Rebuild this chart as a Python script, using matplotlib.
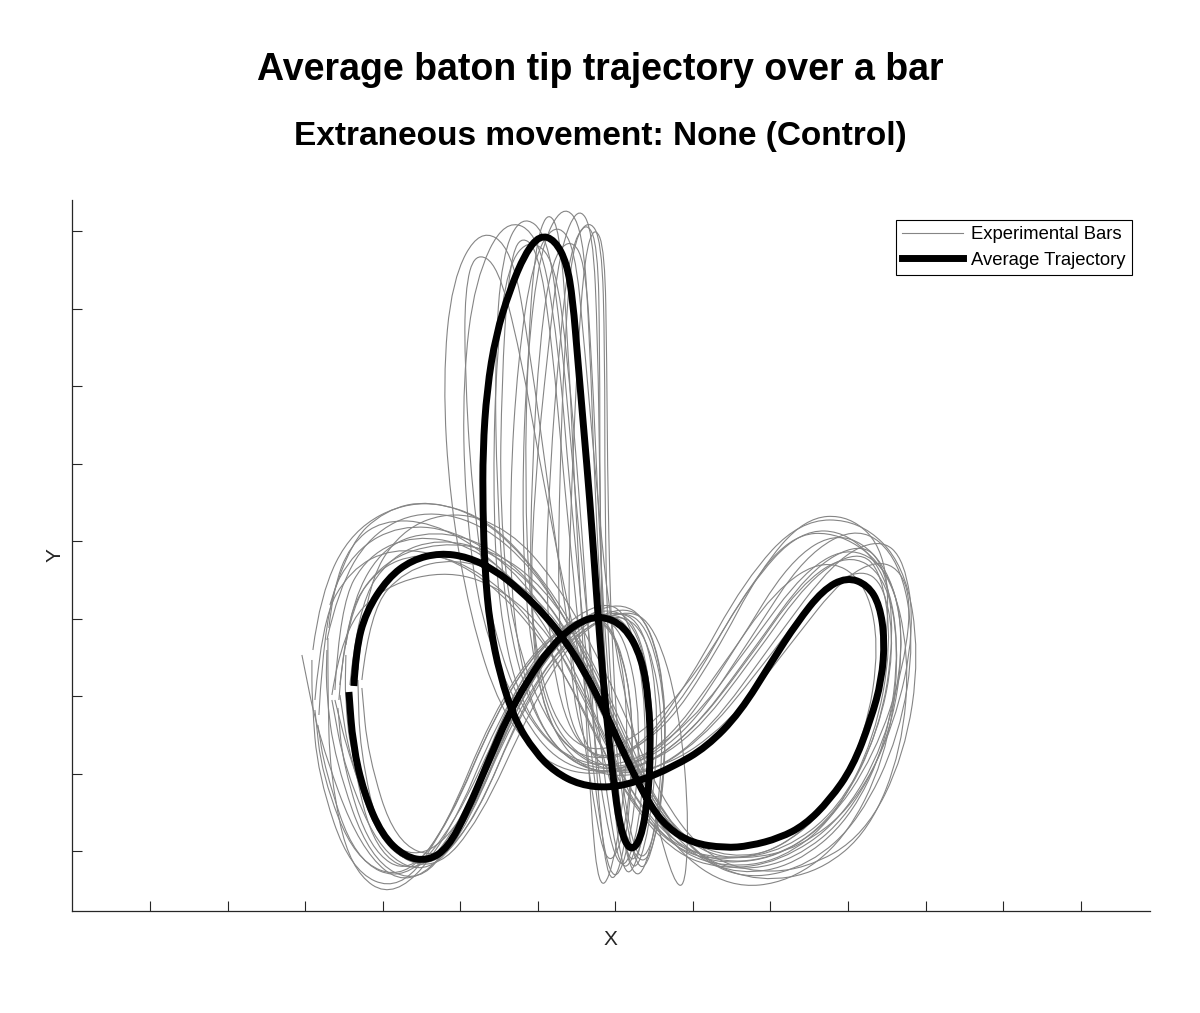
import matplotlib
matplotlib.use('Agg')
import matplotlib.pyplot as plt
import numpy as np
from matplotlib.path import Path
from matplotlib.patches import PathPatch
from matplotlib.lines import Line2D

plt.rcParams['font.family'] = ['Liberation Sans', 'DejaVu Sans']

# Average baton tip trajectory (x, height), one bar
avg_traj = [
    (354, 314), (356, 350), (366, 388), (388, 422), (412, 440), (440, 447),
    (468, 443), (495, 430), (520, 410), (545, 385), (565, 360), (585, 328),
    (602, 295), (618, 260), (633, 228), (650, 195), (668, 172), (692, 157),
    (725, 152), (750, 154), (780, 162), (805, 175), (830, 200), (853, 233),
    (871, 280), (882, 320), (885, 360), (880, 395), (868, 415), (847, 423),
    (823, 410), (797, 377), (773, 340), (740, 287), (707, 253), (673, 233),
    (640, 219), (610, 212), (580, 215), (555, 228), (535, 248), (515, 280),
    (500, 325), (490, 375), (485, 430), (483, 490), (483, 550), (487, 610),
    (496, 665), (510, 710), (525, 746), (540, 765), (555, 760), (567, 737),
    (573, 700), (578, 640), (584, 570), (590, 500), (595, 430), (600, 360),
    (606, 290), (613, 225), (620, 172), (630, 148), (641, 160), (648, 200),
    (651, 250), (649, 300), (642, 342), (625, 374), (600, 385), (575, 376),
    (550, 352), (528, 320), (508, 284), (488, 237), (467, 188), (448, 152),
    (428, 139), (405, 143), (382, 165), (364, 207), (353, 255), (349, 308),
]

# Individual experimental bars
bar_a = [
    (327, 360), (338, 410), (370, 465), (420, 490), (480, 478), (535, 430),
    (578, 360), (612, 285), (645, 210), (690, 150), (735, 128), (795, 140),
    (850, 185), (893, 270), (905, 370), (885, 440), (840, 470), (790, 440),
    (735, 350), (675, 260), (615, 225), (560, 235), (520, 285), (480, 380),
    (465, 500), (463, 620), (475, 720), (505, 782), (540, 765), (558, 660),
    (570, 510), (585, 360), (600, 210), (620, 120), (640, 170), (648, 290),
    (630, 385), (600, 400), (545, 360), (500, 280), (460, 170), (420, 115),
    (370, 140), (335, 240), (326, 310), (327, 350),
]
bar_b = [
    (330, 395), (348, 455), (385, 490), (430, 500), (490, 480), (545, 420),
    (590, 345), (625, 270), (655, 200), (700, 140), (750, 120), (810, 135),
    (860, 180), (900, 265), (915, 360), (900, 440), (860, 475), (805, 445),
    (750, 360), (690, 270), (630, 230), (580, 240), (545, 290), (530, 390),
    (535, 520), (548, 650), (560, 750), (578, 795), (593, 770), (598, 660),
    (600, 510), (603, 360), (615, 200), (635, 110), (655, 160), (665, 270),
    (650, 360), (620, 390), (565, 360), (515, 285), (465, 170), (410, 110),
    (360, 150), (318, 265), (302, 345),
]
bar_c = [
    (346, 355), (352, 400), (385, 455), (435, 470), (490, 455), (540, 410),
    (580, 345), (612, 275), (640, 205), (680, 150), (725, 135), (785, 145),
    (840, 190), (880, 270), (895, 365), (885, 435), (860, 458), (810, 430),
    (750, 345), (690, 265), (630, 225), (575, 232), (535, 280), (512, 380),
    (510, 510), (518, 640), (533, 740), (555, 778), (575, 755), (585, 650),
    (597, 510), (612, 360), (650, 200), (682, 92), (690, 170), (680, 290),
    (655, 375), (625, 392), (575, 365), (530, 290), (480, 180), (435, 128),
    (385, 150), (352, 240), (345, 300), (346, 345),
]
bar_d = [
    (339, 300), (345, 380), (375, 430), (420, 448), (470, 435), (520, 395),
    (560, 335), (595, 265), (630, 200), (672, 155), (720, 140), (775, 148),
    (828, 190), (866, 265), (880, 355), (865, 420), (825, 442), (775, 410),
    (720, 330), (665, 255), (605, 222), (545, 235), (500, 290), (470, 385),
    (450, 500), (443, 620), (452, 720), (480, 772), (512, 752), (530, 650),
    (550, 500), (570, 360), (590, 220), (607, 125), (628, 175), (635, 290),
    (615, 370), (585, 385), (540, 355), (495, 285), (450, 180), (410, 125),
    (370, 150), (343, 235), (338, 292),
]
bar_e = [
    (358, 330), (365, 410), (400, 470), (455, 490), (510, 470), (555, 420),
    (595, 350), (630, 275), (660, 205), (700, 150), (745, 128), (805, 130),
    (865, 165), (905, 245), (920, 345), (905, 435), (860, 480), (800, 480),
    (745, 420), (690, 320), (640, 250), (590, 240), (560, 290), (545, 400),
    (550, 530), (560, 660), (570, 750), (588, 782), (602, 760), (605, 650),
    (605, 500), (608, 350), (620, 210), (640, 115), (660, 175), (668, 290),
    (650, 380), (615, 400), (565, 370), (520, 300), (470, 190), (425, 140),
    (380, 160), (360, 250), (358, 320),
]
bar_f = [
    (319, 285), (325, 395), (355, 450), (400, 475), (455, 470), (510, 435),
    (560, 370), (600, 290), (640, 210), (690, 145), (740, 125), (795, 135),
    (850, 180), (888, 260), (900, 355), (885, 425), (848, 447), (800, 415),
    (745, 335), (685, 260), (625, 225), (570, 235), (530, 290), (505, 390),
    (497, 510), (495, 640), (502, 745), (522, 786), (548, 765), (562, 660),
    (575, 510), (590, 355), (605, 215), (622, 118), (642, 165), (652, 280),
    (635, 370), (605, 390), (555, 360), (505, 285), (455, 175), (405, 118),
    (355, 140), (325, 230), (318, 275),
]
bar_g = [
    (332, 305), (342, 370), (385, 415), (450, 430), (505, 410), (550, 365),
    (585, 305), (612, 245), (640, 185), (685, 145), (730, 140), (785, 150),
    (838, 190), (878, 265), (895, 350), (885, 415), (860, 432), (815, 405),
    (760, 330), (700, 258), (640, 222), (585, 228), (548, 275), (527, 375),
    (522, 500), (527, 640), (540, 750), (563, 797), (583, 772), (590, 660),
    (595, 510), (603, 360), (615, 215), (630, 125), (648, 175), (655, 290),
    (638, 372), (610, 390), (560, 362), (515, 290), (470, 178), (430, 125),
    (382, 145), (345, 230), (332, 300),
]
bar_h = [
    (350, 315), (358, 395), (392, 445), (440, 462), (495, 448), (548, 400),
    (590, 330), (625, 258), (660, 190), (705, 138), (760, 118), (820, 128),
    (870, 170), (902, 250), (910, 345), (890, 430), (840, 468), (790, 465),
    (740, 400), (690, 310), (635, 245), (590, 240), (565, 290), (558, 400),
    (560, 530), (565, 660), (572, 750), (586, 780), (598, 755), (600, 650),
    (600, 500), (603, 350), (612, 210), (625, 112), (645, 160), (655, 280),
    (640, 375), (605, 395), (555, 365), (510, 290), (462, 180), (420, 125),
    (375, 148), (352, 240), (350, 305),
]
bar_i = [
    (315, 300), (322, 380), (350, 430), (392, 452), (445, 445), (500, 410),
    (550, 350), (590, 280), (625, 205), (672, 148), (722, 130), (780, 138),
    (840, 178), (885, 255), (905, 350), (893, 425), (853, 455), (805, 430),
    (750, 355), (690, 275), (625, 232), (565, 240), (520, 295), (498, 395),
    (493, 520), (497, 650), (508, 735), (530, 762), (555, 740), (568, 640),
    (580, 500), (590, 350), (598, 200), (610, 105), (628, 160), (635, 280),
    (618, 368), (588, 385), (540, 355), (495, 285), (450, 178), (405, 120),
    (355, 140), (322, 225), (315, 290),
]
bar_j = [
    (362, 320), (370, 390), (405, 430), (455, 442), (510, 425), (558, 380),
    (598, 315), (630, 248), (660, 185), (700, 148), (745, 140), (800, 152),
    (855, 195), (895, 275), (915, 370), (905, 440), (880, 462), (835, 440),
    (775, 360), (710, 270), (650, 225), (600, 230), (575, 280), (568, 390),
    (572, 520), (578, 650), (585, 745), (595, 775), (605, 750), (607, 640),
    (608, 500), (612, 350), (622, 210), (640, 128), (660, 180), (668, 295),
    (650, 380), (618, 395), (565, 362), (520, 288), (478, 185), (440, 140),
    (395, 158), (368, 245), (362, 312),
]
bar_k = [
    (313, 350), (320, 405), (352, 470), (410, 500), (470, 490), (525, 445),
    (570, 375), (605, 300), (635, 220), (675, 150), (730, 112), (790, 118),
    (845, 160), (885, 240), (900, 335), (890, 420), (850, 468), (800, 470),
    (750, 415), (700, 330), (640, 262), (585, 245), (548, 290), (530, 390),
    (525, 520), (528, 650), (535, 750), (547, 790), (560, 770), (568, 660),
    (575, 510), (583, 360), (590, 200), (600, 100), (618, 150), (630, 270),
    (618, 368), (590, 388), (540, 358), (492, 285), (445, 170), (400, 108),
    (350, 130), (318, 225), (312, 300), (312, 340),
]
bar_l = [
    (335, 310), (340, 395), (368, 445), (415, 465), (470, 455), (522, 415),
    (565, 350), (600, 275), (632, 205), (675, 150), (725, 132), (782, 140),
    (835, 182), (875, 262), (892, 355), (882, 428), (858, 450), (810, 422),
    (752, 340), (692, 262), (632, 228), (570, 236), (520, 290), (488, 390),
    (472, 510), (465, 630), (465, 710), (475, 748), (498, 735), (520, 650),
    (545, 510), (575, 360), (610, 215), (640, 125), (660, 170), (668, 285),
    (650, 372), (620, 392), (570, 362), (522, 290), (475, 180), (432, 130),
    (385, 150), (350, 240), (335, 300),
]
bar_m = [
    (340, 315), (348, 390), (385, 440), (440, 458), (495, 450), (545, 412),
    (585, 350), (618, 280), (648, 210), (685, 160), (730, 142), (780, 150),
    (830, 195), (870, 275), (890, 370), (885, 450), (850, 485), (805, 482),
    (760, 430), (715, 345), (665, 270), (610, 238), (565, 250), (540, 300),
    (530, 400), (532, 530), (540, 660), (552, 740), (570, 762), (585, 740),
    (592, 640), (598, 500), (606, 350), (618, 205), (632, 118), (650, 168),
    (660, 285), (645, 375), (612, 392), (560, 362), (515, 290), (470, 182),
    (428, 132), (382, 152), (350, 240), (340, 305),
]
bar_n = [
    (329, 372), (333, 410), (350, 455), (382, 480), (432, 478), (490, 445),
    (540, 385), (580, 310), (615, 235), (660, 168), (712, 138), (770, 140),
    (828, 175), (875, 245), (905, 335), (912, 410), (888, 442), (845, 425),
    (790, 355), (728, 275), (662, 230), (598, 228), (548, 272), (512, 370),
    (500, 490), (502, 620), (508, 720), (518, 765), (538, 752), (552, 660),
    (565, 510), (580, 360), (595, 210), (612, 108), (632, 160), (642, 278),
    (625, 368), (595, 386), (545, 355), (498, 280), (450, 165), (395, 100),
    (350, 130), (330, 225), (328, 310), (328, 362),
]
bars = [bar_a, bar_b, bar_c, bar_d, bar_e, bar_f, bar_g,
        bar_h, bar_i, bar_j, bar_k, bar_l, bar_m, bar_n]

x_ticks = [150, 228, 305, 383, 460, 538, 615, 693, 770, 848, 926, 1003, 1081]
y_ticks = [149, 226, 304, 381, 459, 536, 614, 691, 769]


def smooth_path(pts):
    # quadratic bezier through the sample points (drawn by matplotlib)
    pts = np.asarray(pts, float)
    verts = [pts[0]]
    codes = [Path.MOVETO]
    for i in range(1, len(pts) - 1):
        verts += [pts[i], (pts[i] + pts[i + 1]) / 2]
        codes += [Path.CURVE3, Path.CURVE3]
    verts.append(pts[-1])
    codes.append(Path.LINETO)
    return Path(verts, codes)


fig = plt.figure(figsize=(12, 10.13), dpi=100)
ax = fig.add_axes([0.06, 0.1007, 0.898, 0.7019])

gray = '#858585'
for b in bars:
    ax.add_patch(PathPatch(smooth_path(b), facecolor='none', edgecolor=gray,
                           lw=0.8))

ax.add_patch(PathPatch(smooth_path(avg_traj), facecolor='none',
                       edgecolor='black', lw=5, capstyle='butt',
                       joinstyle='round'))

ax.set_xlim(72, 1150)
ax.set_ylim(89, 800)
ax.set_xticks(x_ticks)
ax.set_yticks(y_ticks)
ax.set_xticklabels([])
ax.set_yticklabels([])
ax.tick_params(direction='in', length=7, width=0.8, color='#262626')
for s in ['top', 'right']:
    ax.spines[s].set_visible(False)
for s in ['left', 'bottom']:
    ax.spines[s].set_linewidth(0.9)
    ax.spines[s].set_color('#262626')

ax.set_xlabel('X', fontsize=15, labelpad=10, color='#262626')
ax.set_ylabel('Y', fontsize=15, labelpad=2, color='#262626')

handles = [Line2D([], [], color=gray, lw=0.8),
           Line2D([], [], color='black', lw=5)]
leg = ax.legend(handles, ['Experimental Bars', 'Average Trajectory'],
                loc='upper right', bbox_to_anchor=(0.984, 0.972),
                borderaxespad=0, fancybox=False, framealpha=1,
                edgecolor='black', fontsize=13.3, handlelength=3.3,
                handletextpad=0.45, borderpad=0.35, labelspacing=0.45)
leg.get_frame().set_linewidth(0.8)

fig.text(0.5, 1 - 70 / 1013, 'Average baton tip trajectory over a bar',
         ha='center', va='center', fontsize=27, fontweight='bold')
fig.text(0.5, 1 - 137 / 1013, 'Extraneous movement: None (Control)',
         ha='center', va='center', fontsize=24, fontweight='bold')

fig.savefig('out.png', dpi=100)
